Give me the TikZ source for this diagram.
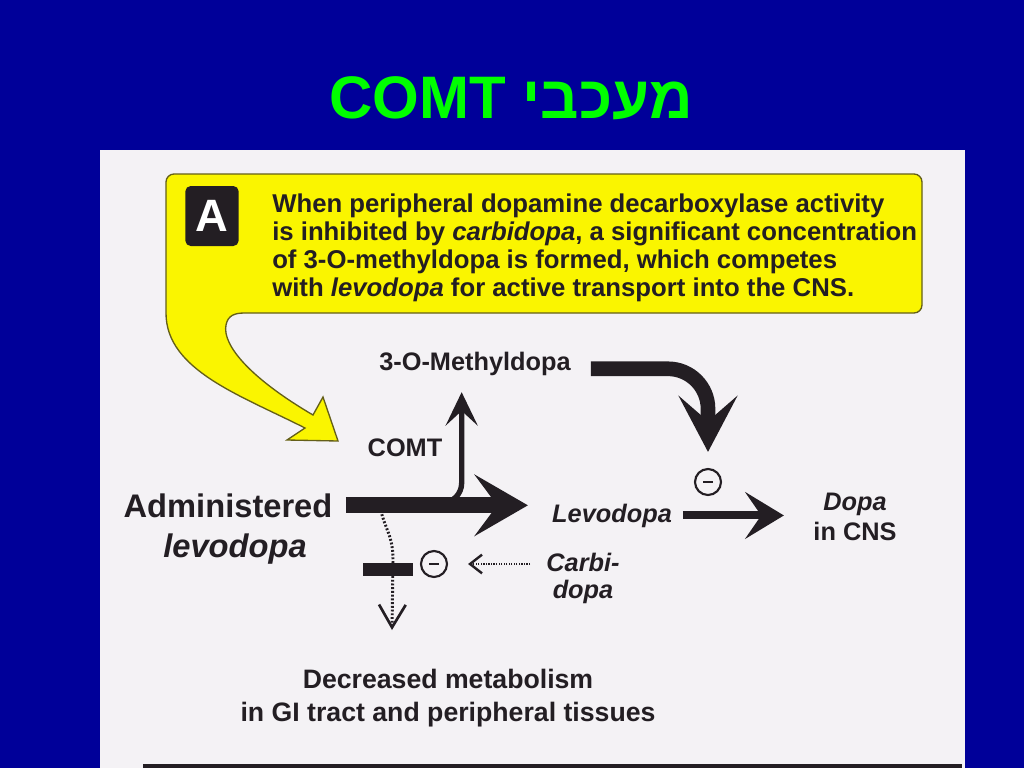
\documentclass[tikz,border=0pt]{standalone}
\usepackage{fontspec}
\setmainfont{Liberation Sans}
\newfontfamily\hebfont[Script=Hebrew]{Liberation Sans}
\TeXXeTstate=1
\usetikzlibrary{arrows.meta}
\definecolor{slideblue}{RGB}{0,0,153}
\definecolor{titlegreen}{RGB}{0,255,0}
\definecolor{paper}{RGB}{244,242,245}
\definecolor{note}{RGB}{250,245,0}
\definecolor{ink}{RGB}{35,30,35}

\begin{document}
\begin{tikzpicture}[x=0.75pt, y=-0.75pt,
  lbl/.style={text=ink, font=\fontsize{19}{22.5}\selectfont\bfseries, align=center, inner sep=2pt},
  big/.style={text=ink, font=\fontsize{24.5}{30}\selectfont\bfseries, align=center, inner sep=2pt},
  inhib/.style={circle, draw=ink, line width=1.6pt, minimum size=19.5pt, inner sep=0pt,
    path picture={\draw[line width=1.8pt] ([xshift=-3.5pt]path picture bounding box.center) -- ([xshift=3.5pt]path picture bounding box.center);}},
  flow/.style={draw=ink, line width=#1},
  dots/.style={draw=ink, line width=2.2pt, dash pattern=on 1.4pt off 1.4pt}]
  \useasboundingbox (0,0) rectangle (1024,768);
  \fill[slideblue] (0,0) rectangle (1024,768);
  \fill[paper] (100,150) rectangle (965,768);
  \node[text=titlegreen, anchor=base, font=\hebfont\fontsize{45}{45}\selectfont\bfseries] (title) at (511,118) {\beginR מעכבי \beginL COMT\endL\endR};

  % yellow note with its tail
  \draw[fill=note, draw=ink!70!note, line width=1pt] (245,313) [rounded corners=6pt] -- (922,313) -- (922,174) -- (166,174) -- (166,300) [sharp corners] -- (166,313)
    .. controls (166,370) and (240,395) .. (305,428) -- (287,440) -- (338,441) -- (323,397) -- (313,415)
    .. controls (250,378) and (222,345) .. (226,325) .. controls (228,315) and (235,313) .. (245,313) -- cycle;
  \node[fill=ink, rounded corners=4pt, minimum width=40pt, minimum height=45pt, text=white, font=\fontsize{34}{34}\selectfont\bfseries] (badge) at (212,216) {A};
  \node[anchor=north west, inner sep=0pt, align=left, text=ink, font=\fontsize{19.3}{21}\selectfont\bfseries] (text) at (272,194)
    {When peripheral dopamine decarboxylase activity\\ is inhibited by \textit{carbidopa}, a significant concentration\\ of 3-O-methyldopa is formed, which competes\\ with \textit{levodopa} for active transport into the CNS.};

  \node[big, anchor=base] (adm) at (228,517) {Administered};
  \node[big, anchor=base] (admlevo) at (235,557) {\textit{levodopa}};
  \node[lbl, anchor=base] (meth) at (475,370) {3-O-Methyldopa};
  \node[lbl, anchor=base] (comt) at (405,456) {COMT};
  \node[lbl, anchor=base] (levo) at (612,522) {\textit{Levodopa}};
  \node[lbl, anchor=north] (cns) at (855,490) {\textit{Dopa}\\in CNS};
  \node[lbl, anchor=north, font=\fontsize{19}{20.5}\selectfont\bfseries] (carb) at (583,550) {\textit{Carbi-}\\\textit{dopa}};
  \node[lbl, anchor=north, font=\fontsize{20}{24.75}\selectfont\bfseries] (dec) at (448,666) {Decreased metabolism\\in GI tract and peripheral tissues};
  \node[inhib] (inhib1) at (434,564) {};
  \node[inhib] (inhib2) at (708,482) {};
  \node[fill=ink, minimum width=37.5pt, minimum height=9.5pt, inner sep=0pt] (block) at (388,569.5) {};
  \coordinate (fork) at (425,503);
  \coordinate (split) at (380,507);
  \coordinate (guttip) at (392,630);

  % pathways
  \draw[flow=12pt, -{Stealth[length=40pt,width=46pt,inset=17pt]}, shorten <=8pt, shorten >=16pt] (adm.east) -- (adm.east -| levo.west);
  \draw[flow=4pt, -{Stealth[length=25pt,width=24pt,inset=11pt]}, rounded corners=15pt, shorten >=10.5pt] (fork) -| ([xshift=-10pt]meth.south);
  \draw[flow=11pt, -{Stealth[length=42pt,width=44pt,inset=19pt]}, rounded corners=30pt, shorten <=13pt, shorten >=12pt] ([yshift=-4pt]meth.east) -| (inhib2.north);
  \draw[flow=6pt, -{Stealth[length=29pt,width=35pt,inset=12pt]}, shorten <=6pt, shorten >=20pt] (levo.east) -- (levo.east -| cns.west);
  \draw[dots, -{Straight Barb[length=17pt,width=20pt,line width=2pt]}] (split) .. controls (385,530) and (393,535) .. (393,560) -- (guttip);
  \draw[dots, line width=1.6pt, dash pattern=on 0.9pt off 1pt, -{Straight Barb[length=9pt,width=14pt,line width=1.8pt]}, shorten <=10pt, shorten >=15pt] (carb.west |- inhib1) -- (inhib1.east);
  \draw[ink, line width=2.5pt] (143,766) -- (962,766);
\end{tikzpicture}
\end{document}
